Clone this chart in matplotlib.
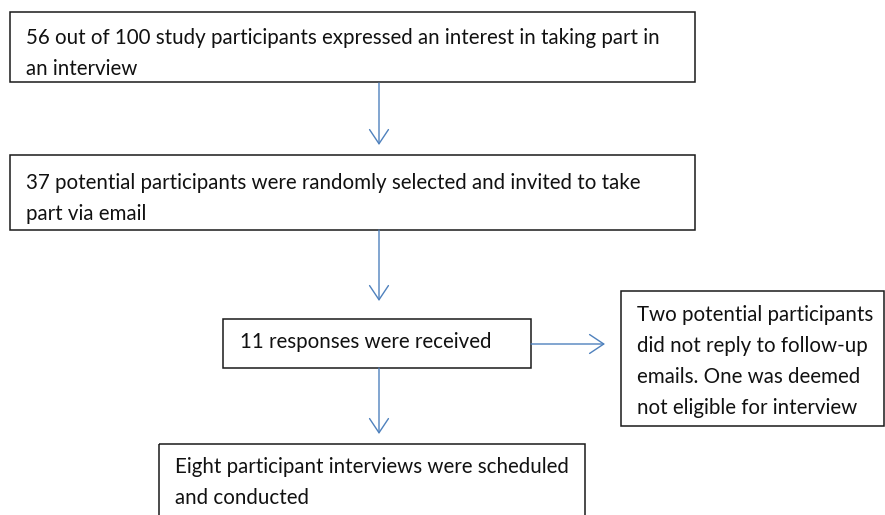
"""Recruitment flow diagram: interview participant selection."""
import matplotlib.pyplot as plt
from matplotlib.patches import Rectangle, FancyArrowPatch

# box texts, one list of lines per box
box_interest = ["56 out of 100 study participants expressed an interest in taking part in",
                "an interview"]
box_invited = ["37 potential participants were randomly selected and invited to take",
               "part via email"]
box_responses = ["11 responses were received"]
box_excluded = ["Two potential participants",
                "did not reply to follow-up",
                "emails. One was deemed",
                "not eligible for interview"]
box_final = ["Eight participant interviews were scheduled",
             "and conducted"]

W, H = 885, 515
EDGE = "#1a1a1a"
ARROW = "#4f81bd"
FONT = "Lato"
FS = 14.8
LINE = 31

fig = plt.figure(figsize=(W / 100, H / 100), dpi=100)
ax = fig.add_axes([0, 0, 1, 1])
ax.set_xlim(0, W)
ax.set_ylim(H, 0)
ax.axis("off")


def box(x0, y0, x1, y1, lines, tx, ty):
    ax.add_patch(Rectangle((x0, y0), x1 - x0, y1 - y0, fill=False,
                           edgecolor=EDGE, linewidth=1.1))
    for i, s in enumerate(lines):
        ax.text(tx, ty + i * LINE, s, fontsize=FS, family=FONT,
                color="#111111", va="baseline", ha="left")


def arrow(p0, p1):
    ax.add_patch(FancyArrowPatch(p0, p1, arrowstyle="->,head_length=6,head_width=4",
                                 color=ARROW, linewidth=1.0, mutation_scale=1.7,
                                 shrinkA=0, shrinkB=0))


box(10, 12, 695, 82, box_interest, 26, 44)
box(10, 155, 695, 230, box_invited, 26, 189)
box(223, 319, 531, 368, box_responses, 240, 348)
box(621, 291, 884, 426, box_excluded, 637, 321)
box(159, 444, 585, 530, box_final, 175, 473)

arrow((379, 83), (379, 145))
arrow((379, 230), (379, 301))
arrow((531, 344), (605, 344))
arrow((379, 368), (379, 434))

fig.savefig("out.png", dpi=100)
